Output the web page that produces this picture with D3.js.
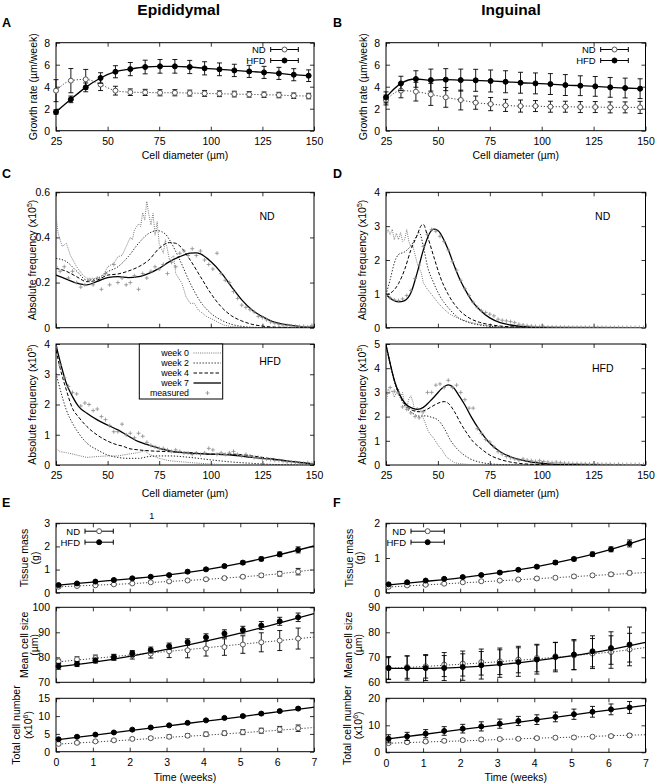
<!DOCTYPE html>
<html><head><meta charset="utf-8">
<script src="https://cdn.jsdelivr.net/npm/d3@7"></script>
<style>
body{margin:0;background:#fff}
svg text{font-family:"Liberation Sans",Arial,Helvetica,sans-serif}
</style></head><body>
<svg id="c" width="656" height="784"></svg>
<script>
// ---------- DATA ----------
const diam = [25,32.2,39.4,46.6,53.8,61,68.2,75.4,82.6,89.8,97,104.2,111.4,118.6,125.8,133,140.2,147.4];
const aHFD = [1.7,2.85,3.94,4.79,5.36,5.6,5.79,5.85,5.85,5.79,5.67,5.58,5.48,5.39,5.3,5.21,5.09,5.0];
const aHFDerr = [0.2,0.3,0.4,0.48,0.55,0.6,0.62,0.62,0.62,0.6,0.6,0.58,0.56,0.55,0.55,0.55,0.55,0.53];
const aND = [3.64,4.55,4.67,4.2,3.64,3.5,3.48,3.45,3.45,3.42,3.39,3.36,3.33,3.3,3.27,3.24,3.18,3.15];
const aNDerr = [1.0,1.1,0.9,0.55,0.4,0.3,0.28,0.28,0.28,0.27,0.27,0.26,0.26,0.25,0.25,0.25,0.25,0.25];
const bHFD = [3.03,4.3,4.7,4.6,4.64,4.6,4.58,4.52,4.45,4.36,4.3,4.24,4.15,4.09,4.03,3.94,3.88,3.82];
const bHFDerr = [0.5,0.65,0.75,1.0,1.0,1.0,1.0,1.0,1.0,0.95,0.95,0.95,0.95,0.9,0.9,0.9,0.9,0.9];
const bND = [2.79,3.64,3.55,3.3,3.03,2.79,2.55,2.42,2.3,2.24,2.24,2.18,2.18,2.15,2.15,2.12,2.12,2.12];
const bNDerr = [0.45,0.65,0.85,1.0,0.9,0.9,0.6,0.6,0.55,0.55,0.5,0.5,0.5,0.5,0.5,0.5,0.5,0.55];

const bins = [25,27,29,31,33,35,37,39,41,43,45,47,49,51,53,55,57,59,61,63,65,67,69,71,73,75,77,79,81,83,85,87,89,91,93,95,97,99,101,103,105,107,109,111,113,115,117,119,121,123,125,127,129,131,133,135,137,139,141,143,145,147,149];

// C ND (epididymal, normal diet)
const cND_w0x = [25,26,28,30,32,35,38,40,43,46,48,50,53,55,57,59,61,62,63,65,66,67,68,69,70,71,72,73,74,75,77,78,80,82,83,85,86,88,90,92,94,96,98,100,103,106,110,115,120,150];
const cND_w0 = [0.5,0.42,0.36,0.374,0.32,0.27,0.233,0.219,0.219,0.211,0.233,0.27,0.285,0.315,0.32,0.36,0.4,0.39,0.433,0.46,0.448,0.51,0.477,0.56,0.5,0.455,0.507,0.41,0.47,0.374,0.33,0.39,0.3,0.32,0.24,0.211,0.197,0.137,0.108,0.108,0.078,0.064,0.049,0.041,0.027,0.012,0.005,0.002,0,0];
const cND_w2x = [25,30,35,40,45,50,55,60,65,70,74,78,80,85,90,95,100,105,110,115,120,130,150];
const cND_w2 = [0.307,0.293,0.251,0.211,0.219,0.248,0.27,0.315,0.374,0.418,0.43,0.415,0.389,0.3,0.197,0.115,0.064,0.034,0.015,0.006,0.002,0,0];
const cND_w4x = [25,30,35,40,45,50,55,60,65,70,75,80,83,85,90,95,100,105,110,115,120,125,130,150];
const cND_w4 = [0.263,0.25,0.226,0.204,0.211,0.233,0.238,0.251,0.27,0.3,0.352,0.377,0.374,0.362,0.3,0.226,0.152,0.093,0.053,0.03,0.015,0.007,0.003,0];
const cND_w7x = [25,30,35,40,45,50,55,60,65,70,75,80,85,90,93,95,100,105,110,115,120,125,130,135,140,145,150];
const cND_w7 = [0.233,0.215,0.198,0.19,0.205,0.222,0.226,0.222,0.226,0.241,0.263,0.293,0.315,0.33,0.332,0.327,0.293,0.244,0.182,0.123,0.078,0.049,0.027,0.016,0.009,0.004,0.002];
const cND_meas = [0.27,0.25,0.27,0.22,0.25,0.2,0.18,0.19,0.21,0.19,0.22,0.17,0.24,0.19,0.28,0.2,0.22,0.19,0.2,0.23,0.17,0.24,0.22,0.25,0.27,0.26,0.28,0.24,0.29,0.27,0.33,0.34,0.32,0.35,0.32,0.34,0.3,0.28,0.26,0.33,0.24,0.21,0.2,0.16,0.13,0.1,0.09,0.08,0.07,0.05,0.045,0.035,0.025,0.02,0.015,0.012,0.01,0.008,0.006,0.005,0.006,0.004,0.01];

// C HFD
const cHFD_w0x = [25,27,30,35,40,45,50,55,60,65,68,70,75,80,85,90,100,110,120,150];
const cHFD_w0 = [0.55,0.44,0.41,0.33,0.25,0.28,0.3,0.3,0.36,0.41,0.47,0.36,0.22,0.14,0.11,0.08,0.03,0.01,0,0];
const cHFD_w2x = [25,28,30,33,36,40,45,50,55,60,65,70,75,80,90,100,110,120,130,150];
const cHFD_w2 = [3.03,2.26,1.82,1.38,1.05,0.72,0.5,0.33,0.25,0.22,0.22,0.28,0.3,0.3,0.25,0.17,0.1,0.055,0.02,0];
const cHFD_w4x = [25,27,30,33,36,40,45,50,55,58,60,65,70,80,90,100,110,120,130,140,150];
const cHFD_w4 = [3.8,3.2,2.48,1.87,1.58,1.27,0.99,0.79,0.66,0.61,0.55,0.5,0.47,0.44,0.41,0.36,0.36,0.3,0.2,0.1,0.04];
const cHFD_w7x = [25,27,30,33,36,40,45,50,55,60,65,70,75,80,90,100,110,120,130,140,150];
const cHFD_w7 = [3.97,3.42,2.7,2.26,1.93,1.71,1.49,1.32,1.16,0.96,0.77,0.66,0.55,0.47,0.39,0.36,0.33,0.25,0.19,0.11,0.03];
const cHFD_meas = [3.9,3.3,2.9,2.6,2.4,2.35,1.95,2.05,2.0,1.8,1.85,1.6,1.5,1.3,1.1,1.1,1.35,1.0,1.05,0.9,1.05,0.95,0.75,0.65,0.6,0.55,0.55,0.5,0.45,0.5,0.45,0.4,0.4,0.35,0.4,0.35,0.4,0.55,0.5,0.35,0.4,0.35,0.4,0.45,0.35,0.3,0.35,0.3,0.25,0.25,0.2,0.2,0.18,0.15,0.15,0.12,0.1,0.1,0.08,0.06,0.05,0.08,0.05];

// D ND (inguinal)
const dND_w0x = [25,26,27,28,29,30,31,32,33,34,35,36,37,38,39,40,41,42,43,45,47,50,53,56,60,65,70,75,80,90,100,150];
const dND_w0 = [2.75,2.9,2.75,2.91,2.6,2.79,2.6,2.81,2.55,2.6,2.9,2.55,2.4,2.4,2.16,1.91,1.76,1.62,1.32,1.13,0.98,0.74,0.54,0.39,0.27,0.17,0.1,0.05,0.02,0.01,0,0];
const dND_w2x = [25,27,29,31,34,37,40,41,43,45,48,51,55,60,65,70,80,90,150];
const dND_w2 = [0.98,1.42,1.91,2.16,2.24,2.42,2.73,2.81,2.4,1.81,1.32,0.93,0.59,0.29,0.15,0.08,0.02,0,0];
const dND_w4x = [25,28,31,34,37,40,42,43,45,48,51,55,60,65,70,75,80,90,100,150];
const dND_w4 = [0.98,1.06,1.3,1.72,2.3,2.73,3.02,3.05,2.7,2.1,1.52,0.98,0.54,0.29,0.16,0.09,0.05,0.015,0,0];
const dND_w7x = [25,28,31,34,37,40,43,46,48,50,52,55,58,61,64,67,70,75,80,85,90,100,150];
const dND_w7 = [0.98,0.83,0.76,0.8,1.03,1.62,2.3,2.79,2.91,2.87,2.7,2.3,1.81,1.37,1.03,0.74,0.54,0.29,0.15,0.08,0.04,0.01,0];
const dND_meas = [0.95,0.88,0.82,0.8,0.85,0.95,1.1,1.45,1.85,2.4,2.75,2.9,2.85,2.7,2.55,2.3,1.95,1.7,1.4,1.15,0.95,0.75,0.6,0.5,0.45,0.4,0.35,0.25,0.22,0.2,0.18,0.15,0.1,0.08,0.06,0.05,0.04,0.03,0.03,0.02,0.02,0.015,0.015,0.012,0.012,0.01,0.01,0.01,0.01,0.008,0.008,0.008,0.008,0.006,0.006,0.006,0.006,0.005,0.005,0.005,0.005,0.005,0.005];

// D HFD
const dHFD_w0x = [25,26,27,28,29,30,31,32,33,34,35,36,37,38,39,40,41,42,43,44,45,46,48,50,52,54,56,58,60,65,70,80,150];
const dHFD_w0 = [2.45,3.14,3.0,3.07,2.8,3.0,3.14,2.8,3.0,2.45,2.38,2.73,2.86,2.59,2.2,2.38,2.2,2.27,1.93,1.72,1.45,1.31,1.1,0.83,0.62,0.34,0.21,0.1,0.06,0.02,0.01,0,0];
const dHFD_w2x = [25,27,29,31,33,35,38,41,44,47,50,53,56,59,62,65,70,75,80,90,150];
const dHFD_w2 = [4.96,4.15,3.45,2.95,2.6,2.35,2.13,2.02,2.03,1.97,1.86,1.52,1.03,0.69,0.45,0.28,0.12,0.05,0.02,0,0];
const dHFD_w4x = [25,27,29,31,33,35,38,41,44,47,50,53,55,58,61,64,67,70,75,80,85,90,100,110,150];
const dHFD_w4 = [4.96,4.2,3.5,3.0,2.65,2.42,2.25,2.2,2.27,2.41,2.55,2.62,2.55,2.2,1.72,1.31,0.96,0.73,0.41,0.23,0.12,0.06,0.015,0,0];
const dHFD_w7x = [25,27,29,31,33,35,37,40,43,46,49,52,55,57,60,63,66,70,75,80,85,90,95,100,110,120,150];
const dHFD_w7 = [4.96,4.2,3.51,3.03,2.69,2.48,2.37,2.3,2.38,2.62,2.89,3.17,3.31,3.24,2.89,2.48,2.0,1.45,0.9,0.55,0.34,0.21,0.12,0.07,0.02,0.005,0];
const dHFD_meas = [4.6,3.2,3.05,2.95,2.4,2.3,2.15,2.0,1.95,2.2,3.0,3.0,3.3,3.35,3.2,3.5,3.2,3.3,3.0,2.7,2.35,2.35,1.5,1.3,1.05,0.95,0.75,0.55,0.45,0.35,0.3,0.25,0.2,0.25,0.2,0.18,0.15,0.18,0.14,0.12,0.1,0.12,0.1,0.08,0.07,0.06,0.06,0.05,0.05,0.04,0.05,0.04,0.03,0.03,0.03,0.02,0.03,0.02,0.02,0.02,0.02,0.02,0.02];

const weekLabels = ["week 0","week 2","week 4","week 7","measured"];

// E / F time courses
const weeks = [0.07,0.57,1.07,1.57,2.07,2.57,3.07,3.57,4.07,4.57,5.07,5.57,6.07,6.57];
const fitT = [0,1,2,3,4,5,6,7];

const eMassHFD = [0.33,0.4,0.48,0.55,0.62,0.69,0.76,0.91,1.01,1.15,1.3,1.46,1.66,1.85];
const eMassHFDerr = [0.04,0.04,0.04,0.05,0.05,0.05,0.05,0.06,0.06,0.07,0.07,0.08,0.1,0.13];
const eMassND = [0.26,0.29,0.32,0.36,0.4,0.45,0.49,0.53,0.58,0.63,0.69,0.75,0.82,0.91];
const eMassNDerr = [0.03,0.03,0.03,0.03,0.04,0.04,0.04,0.05,0.05,0.06,0.06,0.07,0.1,0.14];
const eMassHFDfit = [0.32,0.46,0.6,0.76,0.98,1.27,1.62,2.02];
const eMassNDfit = [0.25,0.32,0.39,0.48,0.57,0.68,0.81,1.0];

const eSizeHFD = [76.4,77.3,78.7,80,81.5,82.9,84.4,86.1,88,89.5,90.9,92.7,94.4,96];
const eSizeHFDerr = [1.2,1.0,1.0,1.0,1.2,1.2,1.3,1.3,1.4,1.5,1.5,1.6,1.6,1.7];
const eSizeND = [78.4,79.2,79.7,80,80.8,81.5,82.4,82.8,83.5,84.1,85.1,86,86.7,87.5];
const eSizeNDerr = [0.8,1.0,1.2,1.2,1.5,1.8,2.5,3,3,3.3,3.5,3.8,4,4.2];
const eSizeHFDfit = [76.2,78.0,80.4,83.2,86.3,89.7,93.5,97.5];
const eSizeNDfit = [78.1,79.5,80.9,82.3,83.7,85.2,86.6,88.1];

const eNumHFD = [3.5,4.2,4.8,5.4,6.2,6.8,7.4,8.1,8.8,9.5,10,10.7,11.4,12.1];
const eNumHFDerr = [0.3,0.3,0.3,0.3,0.3,0.3,0.3,0.3,0.3,0.35,0.35,0.35,0.4,0.4];
const eNumND = [2.2,2.5,2.9,3.2,3.6,3.8,4.2,4.5,4.9,5.2,5.5,5.9,6.3,6.6];
const eNumNDerr = [0.3,0.3,0.3,0.35,0.4,0.4,0.5,0.5,0.6,0.6,0.7,0.7,0.8,0.9];
const eNumHFDfit = [3.3,4.6,5.9,7.2,8.5,9.8,11.2,12.5];
const eNumNDfit = [2.1,2.7,3.3,4.0,4.6,5.3,6.0,6.8];

const fMassHFD = [0.24,0.3,0.35,0.4,0.45,0.51,0.58,0.66,0.75,0.87,0.97,1.11,1.25,1.42];
const fMassHFDerr = [0.03,0.03,0.03,0.03,0.03,0.03,0.04,0.04,0.04,0.05,0.05,0.06,0.07,0.1];
const fMassND = [0.17,0.21,0.23,0.26,0.3,0.33,0.35,0.38,0.41,0.43,0.47,0.5,0.53,0.57];
const fMassNDerr = [0.03,0.03,0.03,0.03,0.03,0.03,0.03,0.03,0.04,0.04,0.04,0.04,0.05,0.05];
const fMassHFDfit = [0.22,0.32,0.43,0.57,0.74,0.96,1.23,1.56];
const fMassNDfit = [0.16,0.22,0.28,0.34,0.4,0.46,0.52,0.58];

const fSizeHFD = [65.7,65.7,65.7,65.7,66.1,66.8,67.5,68.1,69.1,70.1,71.1,72.4,73.7,75.1];
const fSizeHFDerr = [4.5,4.8,5,5,5.3,5.5,5.5,5.7,5.8,5.9,6,6.2,6.5,7];
const fSizeND = [65.7,66.1,66.4,67.1,67.5,68.1,68.4,69.1,69.7,70.4,70.8,71.5,72.1,73.1];
const fSizeNDerr = [4.5,4.5,4.7,4.8,5,5.2,5.3,5.3,5.5,5.5,5.8,6,6.5,6.5];
const fSizeHFDfit = [65.6,65.6,66.0,67.0,68.6,70.6,73.0,76.0];
const fSizeNDfit = [65.5,66.3,67.2,68.2,69.3,70.6,72.0,73.9];

const fNumHFD = [5.0,5.9,6.9,7.9,8.75,9.6,10.6,11.6,12.1,13.1,14.1,15,15.9,16.6];
const fNumHFDerr = [1.5,1.5,1.5,1.6,1.6,1.7,1.7,1.7,1.8,1.8,1.9,2,2,2.2];
const fNumND = [3.4,3.75,4,4.25,4.5,4.75,4.9,5,5.25,5.4,5.5,5.75,6,6.25];
const fNumNDerr = [0.5,0.5,0.5,0.5,0.5,0.5,0.5,0.5,0.5,0.5,0.5,0.5,0.5,0.6];
const fNumHFDfit = [4.9,6.6,8.4,10.1,11.9,13.8,15.6,17.4];
const fNumNDfit = [3.3,3.8,4.2,4.7,5.2,5.6,6.1,6.5];

// ---------- DRAWING ----------
const svg = d3.select("#c");
const FS = 10.5;
let clipId = 0;

function panel(o){
  const x = d3.scaleLinear().domain(o.xd).range([o.l, o.r]);
  const y = d3.scaleLinear().domain(o.yd).range([o.b, o.t]);
  const g = svg.append("g");
  const id = "clip" + (clipId++);
  g.append("clipPath").attr("id", id).append("rect")
    .attr("x", o.l).attr("y", o.t).attr("width", o.r - o.l).attr("height", o.b - o.t);
  const ax = g.append("g");
  ax.append("g").attr("transform", `translate(0,${o.b})`)
    .call(d3.axisBottom(x).tickValues(o.xt).tickSizeInner(-4).tickSizeOuter(0).tickPadding(7)
      .tickFormat(o.xlab ? (d => d) : (() => "")));
  ax.append("g").attr("transform", `translate(0,${o.t})`)
    .call(d3.axisTop(x).tickValues(o.xt).tickSizeInner(-4).tickSizeOuter(0).tickFormat(() => ""));
  ax.append("g").attr("transform", `translate(${o.l},0)`)
    .call(d3.axisLeft(y).tickValues(o.yt).tickSizeInner(-4).tickSizeOuter(0).tickPadding(6).tickFormat(d => d));
  ax.append("g").attr("transform", `translate(${o.r},0)`)
    .call(d3.axisRight(y).tickValues(o.yt).tickSizeInner(-4).tickSizeOuter(0).tickFormat(() => ""));
  ax.selectAll(".domain").remove();
  ax.selectAll("g").attr("font-family", null).attr("font-size", null);
  ax.selectAll(".tick text").attr("font-size", FS).attr("fill", "#000");
  ax.selectAll(".tick line").attr("stroke", "#000").attr("stroke-width", 0.8);
  g.append("rect").attr("x", o.l).attr("y", o.t).attr("width", o.r - o.l).attr("height", o.b - o.t)
    .attr("fill", "none").attr("stroke", "#000").attr("stroke-width", 1);
  const inner = g.append("g").attr("clip-path", `url(#${id})`);
  return {g, inner, x, y, o};
}

function line(p, xs, ys, st){
  const gen = d3.line().x(d => p.x(d[0])).y(d => p.y(d[1])).curve(st.curve || d3.curveMonotoneX);
  p.inner.append("path").datum(xs.map((d, i) => [d, ys[i]]))
    .attr("d", gen).attr("fill", "none").attr("stroke", st.stroke || "#000")
    .attr("stroke-width", st.width || 1).attr("stroke-dasharray", st.dash || null);
}

function errPoints(p, xs, ys, es, filled){
  const gg = p.g.append("g");
  xs.forEach((xv, i) => {
    const cx = p.x(xv), y1 = p.y(ys[i] - es[i]), y2 = p.y(ys[i] + es[i]);
    gg.append("line").attr("x1", cx).attr("x2", cx).attr("y1", y1).attr("y2", y2).attr("stroke", "#000").attr("stroke-width", 0.9);
    [y1, y2].forEach(yy => gg.append("line").attr("x1", cx - 2.5).attr("x2", cx + 2.5).attr("y1", yy).attr("y2", yy).attr("stroke", "#000").attr("stroke-width", 0.9));
  });
  gg.selectAll("circle.pt").data(xs).join("circle").attr("class", "pt")
    .attr("cx", d => p.x(d)).attr("cy", (d, i) => p.y(ys[i])).attr("r", 2.5)
    .attr("fill", filled ? "#000" : "#fff").attr("stroke", filled ? "#000" : "#555").attr("stroke-width", 1);
}

function crosses(p, xs, ys){
  const gg = p.inner.append("g").attr("stroke", "#8a8a8a").attr("stroke-width", 0.8);
  xs.forEach((xv, i) => {
    const cx = p.x(xv), cy = p.y(ys[i]);
    gg.append("line").attr("x1", cx - 2).attr("x2", cx + 2).attr("y1", cy).attr("y2", cy);
    gg.append("line").attr("x1", cx).attr("x2", cx).attr("y1", cy - 2).attr("y2", cy + 2);
  });
}

function text(x, y, s, opt = {}){
  const t = svg.append("text").attr("x", x).attr("y", y).text(s)
    .attr("font-size", opt.size || FS).attr("text-anchor", opt.anchor || "middle")
    .attr("font-weight", opt.bold ? "bold" : null).attr("fill", "#000");
  return t;
}

function vlabel(cx, cy, parts){
  const t = svg.append("text").attr("transform", `translate(${cx},${cy}) rotate(-90)`)
    .attr("text-anchor", "middle").attr("dy", "0.35em").attr("font-size", FS).attr("fill", "#000");
  let up = false;
  parts.forEach(([s, sup]) => {
    const ts = t.append("tspan").text(s);
    if (sup && !up) { ts.attr("dy", -4).attr("font-size", 7); up = true; }
    else if (!sup && up) { ts.attr("dy", 4); up = false; }
  });
}

function legendErr(xl, xr, yc, label, filled){
  text(xl - 5, yc + 3.4, label, {anchor: "end", size: 9.5});
  svg.append("line").attr("x1", xl).attr("x2", xr).attr("y1", yc).attr("y2", yc).attr("stroke", "#000");
  [xl, xr].forEach(xx => svg.append("line").attr("x1", xx).attr("x2", xx).attr("y1", yc - 2.5).attr("y2", yc + 2.5).attr("stroke", "#000"));
  svg.append("circle").attr("cx", (xl + xr) / 2).attr("cy", yc).attr("r", 2.5)
    .attr("fill", filled ? "#000" : "#fff").attr("stroke", filled ? "#000" : "#555");
}

const W0 = {stroke: "#777", dash: "1,1.2", width: 1, curve: d3.curveLinear};
const W2 = {stroke: "#222", dash: "1.3,1.7", width: 1};
const W4 = {stroke: "#000", dash: "3.5,2", width: 1};
const W7 = {stroke: "#000", width: 1.3};
const HFDL = {stroke: "#000", width: 1.3};
const NDL = {stroke: "#444", dash: "1.2,1.8", width: 1};

// titles and letters
text(178.7, 15, "Epididymal", {size: 15.5, bold: true});
text(511, 15, "Inguinal", {size: 15.5, bold: true});
[["A", 2, 27], ["B", 333, 27], ["C", 2, 178], ["D", 333, 178], ["E", 2, 507], ["F", 333, 507]]
  .forEach(([s, x, y]) => text(x, y, s, {size: 12.5, bold: true, anchor: "start"}));

const LX = [56, 314], RX = [386, 645.5];
const dTicks = [25, 50, 75, 100, 125, 150];
const tTicks = [0, 1, 2, 3, 4, 5, 6, 7];

// ---- A & B ----
[[LX, aHFD, aHFDerr, aND, aNDerr], [RX, bHFD, bHFDerr, bND, bNDerr]].forEach(([X, hv, he, nv, ne]) => {
  const p = panel({l: X[0], r: X[1], t: 42.7, b: 130.7, xd: [25, 150], yd: [0, 8], xt: dTicks, yt: [0, 2, 4, 6, 8], xlab: true});
  line(p, diam, nv, NDL);
  line(p, diam, hv, HFDL);
  errPoints(p, diam, nv, ne, false);
  errPoints(p, diam, hv, he, true);
  text((X[0] + X[1]) / 2, 159, "Cell diameter (µm)");
  vlabel(X[0] - 23, 86.7, [["Growth rate (µm/week)"]]);
  const lx = X[0] + 214.7;
  legendErr(lx, lx + 27.6, 49.5, "ND", false);
  legendErr(lx, lx + 27.6, 60.5, "HFD", true);
});

// ---- C & D distributions ----
function distPanel(X, t, b, yd, yt, xlab, series, meas, tag, tagPos){
  const p = panel({l: X[0], r: X[1], t, b, xd: [25, 150], yd, xt: dTicks, yt, xlab});
  line(p, series[0][0], series[0][1], W0);
  line(p, series[1][0], series[1][1], W2);
  line(p, series[2][0], series[2][1], W4);
  line(p, series[3][0], series[3][1], W7);
  crosses(p, bins, meas);
  text(tagPos[0], tagPos[1], tag);
  vlabel(X[0] - 24, (t + b) / 2, [["Absolute frequency (x10"], ["5", true], [")"]]);
  return p;
}
distPanel(LX, 192.3, 327.7, [0, 0.6], [0, 0.2, 0.4, 0.6], false,
  [[cND_w0x, cND_w0], [cND_w2x, cND_w2], [cND_w4x, cND_w4], [cND_w7x, cND_w7]], cND_meas, "ND", [267, 219.5]);
distPanel(LX, 344, 465, [0, 4], [0, 1, 2, 3, 4], true,
  [[cHFD_w0x, cHFD_w0], [cHFD_w2x, cHFD_w2], [cHFD_w4x, cHFD_w4], [cHFD_w7x, cHFD_w7]], cHFD_meas, "HFD", [270, 365]);
distPanel(RX, 192.3, 327.7, [0, 4], [0, 1, 2, 3, 4], false,
  [[dND_w0x, dND_w0], [dND_w2x, dND_w2], [dND_w4x, dND_w4], [dND_w7x, dND_w7]], dND_meas, "ND", [602.7, 219.5]);
distPanel(RX, 344, 465, [0, 5], [0, 1, 2, 3, 4, 5], true,
  [[dHFD_w0x, dHFD_w0], [dHFD_w2x, dHFD_w2], [dHFD_w4x, dHFD_w4], [dHFD_w7x, dHFD_w7]], dHFD_meas, "HFD", [602.7, 371.8]);
text((LX[0] + LX[1]) / 2, 497, "Cell diameter (µm)");
text((RX[0] + RX[1]) / 2, 497, "Cell diameter (µm)");

// legend box in C HFD
svg.append("rect").attr("x", 139.3).attr("y", 344).attr("width", 83.4).attr("height", 55)
  .attr("fill", "#fff").attr("stroke", "#000").attr("stroke-width", 1);
const legRows = [353, 363, 373, 383, 393];
const legStyles = [W0, W2, W4, W7];
weekLabels.forEach((s, i) => {
  text(189, legRows[i] + 3.2, s, {anchor: "end", size: 8.8});
  if (i < 4) {
    const st = legStyles[i];
    svg.append("line").attr("x1", 193.5).attr("x2", 221).attr("y1", legRows[i]).attr("y2", legRows[i])
      .attr("stroke", st.stroke).attr("stroke-width", st.width).attr("stroke-dasharray", st.dash || null);
  } else {
    const cx = 207.5, cy = legRows[i];
    svg.append("line").attr("x1", cx - 2).attr("x2", cx + 2).attr("y1", cy).attr("y2", cy).attr("stroke", "#8a8a8a").attr("stroke-width", 0.8);
    svg.append("line").attr("x1", cx).attr("x2", cx).attr("y1", cy - 2).attr("y2", cy + 2).attr("stroke", "#8a8a8a").attr("stroke-width", 0.8);
  }
});

// ---- E & F ----
function timePanel(X, t, b, yd, yt, xlab, hv, he, nv, ne, hfit, nfit, lab1, lab2, labX1, labX2){
  const p = panel({l: X[0], r: X[1], t, b, xd: [0, 7], yd, xt: tTicks, yt, xlab});
  line(p, fitT, nfit, NDL);
  line(p, fitT, hfit, HFDL);
  errPoints(p, weeks, nv, ne, false);
  errPoints(p, weeks, hv, he, true);
  const cy = (t + b) / 2;
  vlabel(labX1, cy, lab1);
  vlabel(labX2, cy, lab2);
  return p;
}
timePanel(LX, 523.3, 592.7, [0, 3], [0, 1, 2, 3], false, eMassHFD, eMassHFDerr, eMassND, eMassNDerr, eMassHFDfit, eMassNDfit,
  [["Tissue mass"]], [["(g)"]], 24.5, 35);
timePanel(LX, 607.3, 682.3, [70, 100], [70, 80, 90, 100], false, eSizeHFD, eSizeHFDerr, eSizeND, eSizeNDerr, eSizeHFDfit, eSizeNDfit,
  [["Mean cell size"]], [["(µm)"]], 24.5, 34);
timePanel(LX, 698.3, 751.7, [0, 15], [0, 5, 10, 15], true, eNumHFD, eNumHFDerr, eNumND, eNumNDerr, eNumHFDfit, eNumNDfit,
  [["Total cell number"]], [["(x10"], ["6", true], [")"]], 16, 28.5);
timePanel(RX, 523.3, 592.7, [0, 2], [0, 1, 2], false, fMassHFD, fMassHFDerr, fMassND, fMassNDerr, fMassHFDfit, fMassNDfit,
  [["Tissue mass"]], [["(g)"]], 349, 359.5);
timePanel(RX, 607.3, 682.3, [60, 90], [60, 70, 80, 90], false, fSizeHFD, fSizeHFDerr, fSizeND, fSizeNDerr, fSizeHFDfit, fSizeNDfit,
  [["Mean cell size"]], [["(µm)"]], 348.5, 358.5);
timePanel(RX, 698.3, 752.3, [0, 20], [0, 10, 20], true, fNumHFD, fNumHFDerr, fNumND, fNumNDerr, fNumHFDfit, fNumNDfit,
  [["Total cell number"]], [["(x10"], ["6", true], [")"]], 347, 358.5);
text((LX[0] + LX[1]) / 2, 781, "Time (weeks)");
text((RX[0] + RX[1]) / 2, 781, "Time (weeks)");

legendErr(85, 113.3, 531.2, "ND", false);
legendErr(85, 113.3, 542.2, "HFD", true);
legendErr(411, 444.3, 531.2, "ND", false);
legendErr(411, 444.3, 542.2, "HFD", true);

text(151.7, 518.5, "1", {size: 9});
</script>
</body></html>
